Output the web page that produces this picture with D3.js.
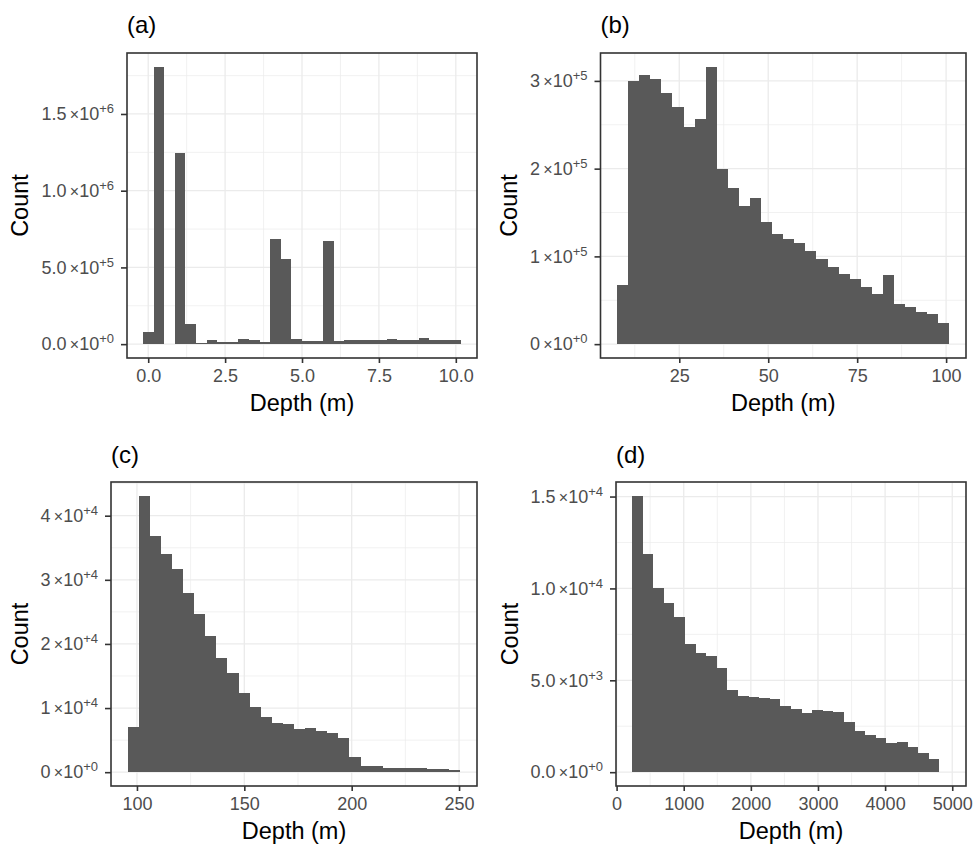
<!DOCTYPE html>
<html>
<head>
<meta charset="utf-8">
<script src="https://cdn.jsdelivr.net/npm/d3@7"></script>
<style>
  body { margin: 0; background: #fff; }
  svg { display: block; font-family: "Liberation Sans", Arial, sans-serif; }
</style>
</head>
<body>
<script>
// histogram counts, 30 bins each
const aCounts = [8e4, 1.807e6, 0, 1.246e6, 1.3e5, 8e3, 2.8e4, 1.1e4, 1.5e4, 3.5e4,
  2.4e4, 1.5e4, 6.88e5, 5.58e5, 3.5e4, 2.2e4, 2.2e4, 6.71e5, 2.0e4, 2.8e4,
  2.8e4, 2.8e4, 2.4e4, 3.5e4, 2.4e4, 2.4e4, 3.9e4, 2.4e4, 3.0e4, 2.8e4];
const aStart = -0.1724, aBinWidth = 0.3448;

const bCounts = [6.7e4, 3.0e5, 3.069e5, 3.027e5, 2.867e5, 2.704e5, 2.476e5, 2.567e5, 3.16e5, 2.0e5,
  1.785e5, 1.58e5, 1.671e5, 1.394e5, 1.253e5, 1.196e5, 1.151e5, 1.06e5, 9.68e4, 8.81e4,
  8.05e4, 7.44e4, 6.46e4, 5.77e4, 7.86e4, 4.63e4, 4.18e4, 3.68e4, 3.42e4, 2.43e4];
const bStart = 7.53, bBinWidth = 3.113;

const cCounts = [7100, 43100, 36800, 34100, 31700, 27900, 24600, 21300, 17800, 15500,
  12400, 10200, 8650, 7700, 7500, 6800, 6900, 6400, 6100, 5300,
  2400, 1000, 1000, 700, 600, 600, 600, 550, 470, 400];
const cStart = 95.66, cBinWidth = 5.165;

const dCounts = [15040, 11900, 10000, 9200, 8420, 6960, 6490, 6340, 5670, 4470,
  4170, 4090, 4060, 3990, 3590, 3440, 3240, 3410, 3330, 3300,
  2740, 2230, 2030, 1850, 1590, 1630, 1360, 1030, 720, 30];
const dStart = 228, dBinWidth = 158;

// tick values and labels
const aXTicks = [0, 2.5, 5, 7.5, 10];
const aXLabels = ['0.0', '2.5', '5.0', '7.5', '10.0'];
const aYTicks = [0, 5e5, 1e6, 1.5e6];
const aYMant = ['0.0', '5.0', '1.0', '1.5'];
const aYExp = ['+0', '+5', '+6', '+6'];

const bXTicks = [25, 50, 75, 100];
const bXLabels = ['25', '50', '75', '100'];
const bYTicks = [0, 1e5, 2e5, 3e5];
const bYMant = ['0', '1', '2', '3'];
const bYExp = ['+0', '+5', '+5', '+5'];

const cXTicks = [100, 150, 200, 250];
const cXLabels = ['100', '150', '200', '250'];
const cYTicks = [0, 1e4, 2e4, 3e4, 4e4];
const cYMant = ['0', '1', '2', '3', '4'];
const cYExp = ['+0', '+4', '+4', '+4', '+4'];

const dXTicks = [0, 1000, 2000, 3000, 4000, 5000];
const dXLabels = ['0', '1000', '2000', '3000', '4000', '5000'];
const dYTicks = [0, 5e3, 1e4, 1.5e4];
const dYMant = ['0.0', '5.0', '1.0', '1.5'];
const dYExp = ['+0', '+3', '+4', '+4'];

const svg = d3.select('body').append('svg')
    .attr('width', 974)
    .attr('height', 844);

const panels = [
  { label: '(a)', left: 127, top: 53, right: 477, bottom: 358, counts: aCounts, start: aStart, bw: aBinWidth,
    xTicks: aXTicks, xLabels: aXLabels, yTicks: aYTicks, yMant: aYMant, yExp: aYExp, titleOff: 99, labelY: 32.5 },
  { label: '(b)', left: 600.5, top: 53, right: 966, bottom: 358, counts: bCounts, start: bStart, bw: bBinWidth,
    xTicks: bXTicks, xLabels: bXLabels, yTicks: bYTicks, yMant: bYMant, yExp: bYExp, titleOff: 84, labelY: 32.5 },
  { label: '(c)', left: 111, top: 482, right: 477, bottom: 786, counts: cCounts, start: cStart, bw: cBinWidth,
    xTicks: cXTicks, xLabels: cXLabels, yTicks: cYTicks, yMant: cYMant, yExp: cYExp, titleOff: 83, labelY: 462.5 },
  { label: '(d)', left: 616, top: 482, right: 966, bottom: 786, counts: dCounts, start: dStart, bw: dBinWidth,
    xTicks: dXTicks, xLabels: dXLabels, yTicks: dYTicks, yMant: dYMant, yExp: dYExp, titleOff: 98, labelY: 462.5 }
];

// midpoints between major breaks (plus one step outside) = ggplot minor breaks
function minorBreaks(ticks, domain) {
  const step = ticks[1] - ticks[0];
  const out = [];
  for (let v = ticks[0] - step / 2; v <= ticks[ticks.length - 1] + step; v += step) {
    if (v > domain[0] && v < domain[1]) out.push(v);
  }
  return out;
}

panels.forEach(p => {
  const n = p.counts.length;
  const x0 = p.start, x1 = p.start + n * p.bw;
  const xPad = (x1 - x0) * 0.05;
  const yMax = d3.max(p.counts);

  const x = d3.scaleLinear().domain([x0 - xPad, x1 + xPad]).range([p.left, p.right]);
  const y = d3.scaleLinear().domain([-yMax * 0.05, yMax * 1.05]).range([p.bottom, p.top]);

  const g = svg.append('g');

  // grid
  const grid = g.append('g');
  grid.selectAll('.xminor').data(minorBreaks(p.xTicks, x.domain())).enter().append('line')
      .attr('x1', d => x(d)).attr('x2', d => x(d)).attr('y1', p.top).attr('y2', p.bottom)
      .attr('stroke', '#EBEBEB').attr('stroke-width', 0.7);
  grid.selectAll('.yminor').data(minorBreaks(p.yTicks, y.domain())).enter().append('line')
      .attr('y1', d => y(d)).attr('y2', d => y(d)).attr('x1', p.left).attr('x2', p.right)
      .attr('stroke', '#EBEBEB').attr('stroke-width', 0.7);
  grid.selectAll('.xmajor').data(p.xTicks).enter().append('line')
      .attr('x1', d => x(d)).attr('x2', d => x(d)).attr('y1', p.top).attr('y2', p.bottom)
      .attr('stroke', '#EBEBEB').attr('stroke-width', 1.3);
  grid.selectAll('.ymajor').data(p.yTicks).enter().append('line')
      .attr('y1', d => y(d)).attr('y2', d => y(d)).attr('x1', p.left).attr('x2', p.right)
      .attr('stroke', '#EBEBEB').attr('stroke-width', 1.3);

  // bars
  g.selectAll('.bar').data(p.counts).enter().append('rect')
      .attr('x', (d, i) => x(p.start + i * p.bw))
      .attr('width', (d, i) => x(p.start + (i + 1) * p.bw) - x(p.start + i * p.bw))
      .attr('y', d => y(d))
      .attr('height', d => y(0) - y(d))
      .attr('fill', '#595959')
      .attr('shape-rendering', 'crispEdges');

  // border
  g.append('rect')
      .attr('x', p.left).attr('y', p.top)
      .attr('width', p.right - p.left).attr('height', p.bottom - p.top)
      .attr('fill', 'none').attr('stroke', '#333333').attr('stroke-width', 1.6);

  // axes
  const xAxis = g.append('g')
      .attr('transform', `translate(0,${p.bottom})`)
      .call(d3.axisBottom(x).tickValues(p.xTicks).tickSize(5).tickPadding(6.3)
        .tickFormat((d, i) => p.xLabels[i]));
  const yAxis = g.append('g')
      .attr('transform', `translate(${p.left},0)`)
      .call(d3.axisLeft(y).tickValues(p.yTicks).tickSize(6).tickPadding(7)
        .tickFormat((d, i) => p.yMant[i]));

  [xAxis, yAxis].forEach(ax => {
    ax.select('.domain').remove();
    ax.selectAll('line').attr('stroke', '#333333').attr('stroke-width', 1.6);
    ax.selectAll('text').attr('fill', '#4D4D4D').style('font-size', '18px')
        .style('font-family', '"Liberation Sans", Arial, sans-serif');
  });

  // y labels as  m ×10^e
  yAxis.selectAll('.tick text').each(function (d, i) {
    const t = d3.select(this);
    t.text(null);
    t.append('tspan').text(p.yMant[i]);
    t.append('tspan').style('font-size', '16px').text('\u2009\u00d7');
    t.append('tspan').text('10');
    t.append('tspan').style('font-size', '13px').attr('dy', -7).text(p.yExp[i]);
  });

  // titles
  g.append('text')
      .attr('x', (p.left + p.right) / 2)
      .attr('y', p.bottom + 53)
      .attr('text-anchor', 'middle')
      .style('font-size', '23.5px')
      .attr('fill', '#000')
      .text('Depth (m)');

  g.append('text')
      .attr('transform', `translate(${p.left - p.titleOff},${(p.top + p.bottom) / 2}) rotate(-90)`)
      .attr('text-anchor', 'middle')
      .style('font-size', '23.5px')
      .attr('fill', '#000')
      .text('Count');

  g.append('text')
      .attr('x', p.left)
      .attr('y', p.labelY)
      .style('font-size', '24px')
      .attr('fill', '#000')
      .text(p.label);
});
</script>
</body>
</html>
